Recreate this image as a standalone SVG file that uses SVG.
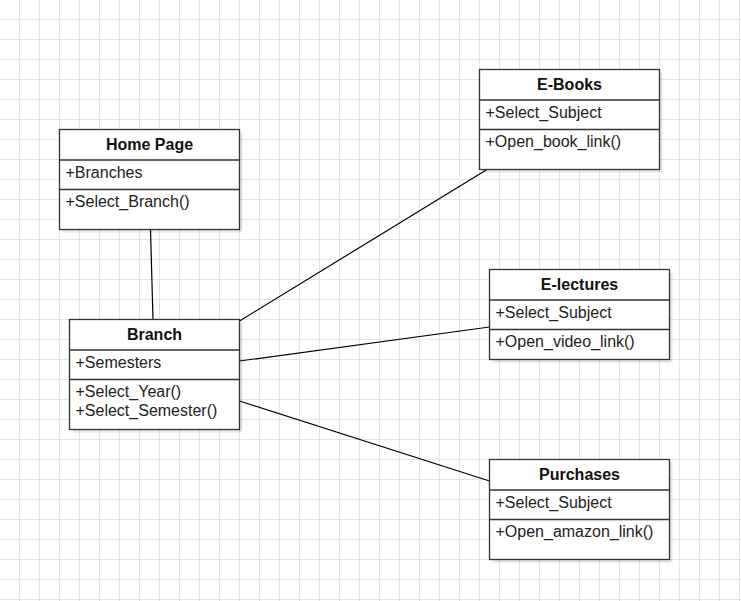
<svg xmlns="http://www.w3.org/2000/svg" width="741" height="601" viewBox="0 0 741 601">
<style>
.box{fill:#fff;stroke:#333;stroke-width:1.3}
.sh{fill:#000;fill-opacity:0.1}
.div{stroke:#333;stroke-width:1.3}
.t{font-family:"Liberation Sans",Arial,sans-serif;font-size:16px;fill:#222}
.h{font-family:"Liberation Sans",Arial,sans-serif;font-size:16px;font-weight:bold;fill:#111;text-anchor:middle}
.c{stroke:#000;stroke-width:1.2;fill:none}
</style>
<defs>
<pattern id="grid" x="0" y="0" width="20" height="20" patternUnits="userSpaceOnUse">
<path d="M19.5 0V20M0 19.5H20" stroke="#e4e4e4" stroke-width="1" fill="none"/>
</pattern>
</defs>
<rect width="741" height="601" fill="#fff"/>
<rect width="741" height="601" fill="url(#grid)"/>
<g id="connectors">
<line class="c" x1="150.5" y1="229.5" x2="153" y2="319.5"/>
<line class="c" x1="239.5" y1="321" x2="487" y2="169.5"/>
<line class="c" x1="239.5" y1="361" x2="489.5" y2="327"/>
<line class="c" x1="239.5" y1="401" x2="489.5" y2="481"/>
</g>
<g id="home-page">
<rect class="sh" x="62.5" y="132.5" width="180" height="100"/>
<rect class="box" x="59.5" y="129.5" width="180" height="100"/>
<line class="div" x1="59.5" y1="160" x2="239.5" y2="160"/>
<line class="div" x1="59.5" y1="189.5" x2="239.5" y2="189.5"/>
<text class="h" x="149.5" y="150">Home Page</text>
<text class="t" x="65.5" y="177.5">+Branches</text>
<text class="t" x="65.5" y="206.5">+Select_Branch()</text>
</g>
<g id="branch">
<rect class="sh" x="72.5" y="322.5" width="170" height="110"/>
<rect class="box" x="69.5" y="319.5" width="170" height="110"/>
<line class="div" x1="69.5" y1="350" x2="239.5" y2="350"/>
<line class="div" x1="69.5" y1="379.5" x2="239.5" y2="379.5"/>
<text class="h" x="154.5" y="340">Branch</text>
<text class="t" x="75.5" y="367.5">+Semesters</text>
<text class="t" x="75.5" y="397">+Select_Year()</text>
<text class="t" x="75.5" y="416">+Select_Semester()</text>
</g>
<g id="e-books">
<rect class="sh" x="482.5" y="72.5" width="180" height="100"/>
<rect class="box" x="479.5" y="69.5" width="180" height="100"/>
<line class="div" x1="479.5" y1="100" x2="659.5" y2="100"/>
<line class="div" x1="479.5" y1="129.5" x2="659.5" y2="129.5"/>
<text class="h" x="569.5" y="90">E-Books</text>
<text class="t" x="485.5" y="117.5">+Select_Subject</text>
<text class="t" x="485.5" y="146.5">+Open_book_link()</text>
</g>
<g id="e-lectures">
<rect class="sh" x="492.5" y="272.5" width="180" height="90"/>
<rect class="box" x="489.5" y="269.5" width="180" height="90"/>
<line class="div" x1="489.5" y1="300" x2="669.5" y2="300"/>
<line class="div" x1="489.5" y1="329.5" x2="669.5" y2="329.5"/>
<text class="h" x="579.5" y="290">E-lectures</text>
<text class="t" x="495.5" y="317.5">+Select_Subject</text>
<text class="t" x="495.5" y="346.5">+Open_video_link()</text>
</g>
<g id="purchases">
<rect class="sh" x="492.5" y="462.5" width="180" height="100"/>
<rect class="box" x="489.5" y="459.5" width="180" height="100"/>
<line class="div" x1="489.5" y1="490" x2="669.5" y2="490"/>
<line class="div" x1="489.5" y1="519.5" x2="669.5" y2="519.5"/>
<text class="h" x="579.5" y="480">Purchases</text>
<text class="t" x="495.5" y="507.5">+Select_Subject</text>
<text class="t" x="495.5" y="536.5">+Open_amazon_link()</text>
</g>
</svg>
